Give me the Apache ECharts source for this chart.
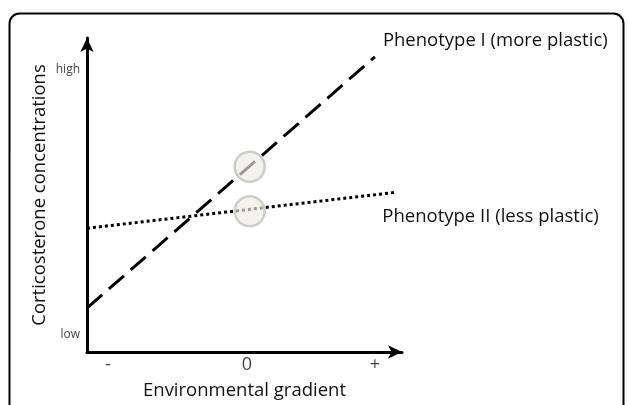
<!DOCTYPE html>
<html>
<head>
<meta charset="utf-8">
<script src="https://cdn.jsdelivr.net/npm/echarts@6/dist/echarts.min.js"></script>
<style>
  html, body { margin: 0; padding: 0; background: #fff; }
  #main { width: 629px; height: 405px; }
</style>
</head>
<body>
<div id="main"></div>
<script>
// line end points (x: environment, y: concentration 0-10)
var phenotype1 = [[-1.15, 1.40], [0.92, 9.40]];
var phenotype2 = [[-1.15, 3.94], [1.06, 5.08]];
var phenotypeNames = ["Phenotype I (more plastic)", "Phenotype II (less plastic)"];
// reaction norm values at the mean environment
var circlePoints = [[0.02, 5.90], [0.02, 4.48]];
// axis tick labels
var xTicks = [[-1, "-"], [0, "0"], [0.92, "+"]];
var yTicks = [[8.98, "high"], [0.54, "low"]];

var FONT = "Open Sans";

var chart = echarts.init(document.getElementById("main"));
chart.setOption({
  animation: false,
  backgroundColor: "#fff",
  graphic: [
    {
      type: "rect",
      shape: { x: 9.5, y: 13.5, width: 614, height: 430, r: 10 },
      style: { fill: "none", stroke: "#000", lineWidth: 2 },
      z: 0
    }
  ],
  grid: {
    left: 87,
    top: 38,
    width: 315,
    height: 316
  },
  xAxis: {
    type: "value",
    min: -1.15,
    max: 1.115,
    name: "Environmental gradient",
    nameLocation: "middle",
    nameGap: 29,
    nameTextStyle: { fontFamily: FONT, fontSize: 18.5, color: "#111" },
    axisLine: {
      show: true,
      onZero: false,
      symbol: ["none", "arrow"],
      symbolSize: [10, 14],
      lineStyle: { color: "#000", width: 3 }
    },
    axisTick: { show: false },
    axisLabel: { show: false },
    splitLine: { show: false }
  },
  yAxis: {
    type: "value",
    min: 0,
    max: 10,
    name: "Corticosterone concentrations",
    nameLocation: "middle",
    nameGap: 38,
    nameRotate: 90,
    nameTextStyle: { fontFamily: FONT, fontSize: 18.5, color: "#111" },
    axisLine: {
      show: true,
      onZero: false,
      symbol: ["none", "arrow"],
      symbolSize: [10, 14],
      lineStyle: { color: "#000", width: 3 }
    },
    axisTick: { show: false },
    axisLabel: { show: false },
    splitLine: { show: false }
  },
  series: [
    {
      name: phenotypeNames[0],
      type: "line",
      data: phenotype1,
      showSymbol: false,
      lineStyle: { color: "#000", width: 3, type: [20, 9] },
      endLabel: {
        show: true,
        formatter: phenotypeNames[0],
        fontFamily: FONT,
        fontSize: 18.5,
        color: "#111",
        offset: [0, -16]
      },
      z: 2
    },
    {
      name: phenotypeNames[1],
      type: "line",
      data: phenotype2,
      showSymbol: false,
      lineStyle: { color: "#000", width: 3, type: [3, 3] },
      endLabel: {
        show: true,
        formatter: phenotypeNames[1],
        fontFamily: FONT,
        fontSize: 18.5,
        color: "#111",
        offset: [-20, 24]
      },
      z: 2
    },
    {
      type: "scatter",
      data: circlePoints,
      symbolSize: 30,
      itemStyle: {
        color: "rgba(236,236,226,0.82)",
        borderColor: "#c2c2c0",
        borderWidth: 2.5
      },
      z: 3
    },
    {
      type: "scatter",
      data: xTicks.map(function (t) { return { value: [t[0], 0], name: t[1] }; }),
      symbolSize: 0,
      clip: false,
      label: {
        show: true,
        position: "bottom",
        distance: 4,
        formatter: "{b}",
        fontFamily: FONT,
        fontSize: 18,
        color: "#111"
      }
    },
    {
      type: "scatter",
      data: yTicks.map(function (t) { return { value: [-1.15, t[0]], name: t[1] }; }),
      symbolSize: 0,
      clip: false,
      label: {
        show: true,
        position: "left",
        distance: 7,
        formatter: "{b}",
        fontFamily: FONT,
        fontSize: 12,
        color: "#111"
      }
    }
  ]
});
</script>
</body>
</html>
